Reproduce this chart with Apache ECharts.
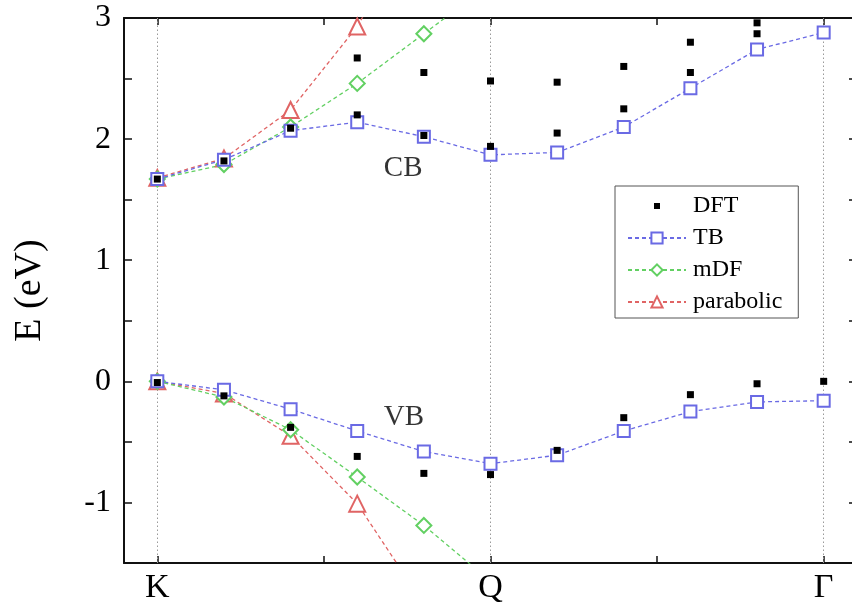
<!DOCTYPE html>
<html>
<head>
<meta charset="utf-8">
<script src="https://cdn.jsdelivr.net/npm/echarts@6/dist/echarts.min.js"></script>
<style>
  html, body { margin: 0; padding: 0; background: #fff; overflow: hidden; }
  /* canvas is slightly wider than the page so the right frame edge falls just outside */
  #chart { width: 860px; height: 608px; }
</style>
</head>
<body>
<div id="chart"></div>
<script>
// k-path sample index along K -> Q -> Gamma
const kIndex = [0, 1, 2, 3, 4, 5, 6, 7, 8, 9, 10];

// High-symmetry point labels on the k axis
const kPointNames = ['K', 'Q', 'Γ'];
const kPointIndex = [0, 5, 10];
const kMinorTicks = [0, 2.5, 5, 7.5, 10];

// Energy tick labels (eV)
const energyTicks = [-1, 0, 1, 2, 3];
const energyMinorTicks = [-1.5, -1, -0.5, 0, 0.5, 1, 1.5, 2, 2.5, 3];

// Tight-binding bands
const tbCB = [1.67, 1.83, 2.07, 2.14, 2.02, 1.87, 1.89, 2.10, 2.42, 2.74, 2.88];
const tbVB = [0.00, -0.07, -0.23, -0.41, -0.58, -0.68, -0.61, -0.41, -0.25, -0.17, -0.16];

// Massive Dirac fermion model
const mdfCB = [1.67, 1.79, 2.10, 2.46, 2.87, 3.28];
const mdfVB = [0.00, -0.13, -0.40, -0.79, -1.19, -1.65];

// Parabolic approximation
const parCB = [1.68, 1.84, 2.24, 2.93, 3.90];
const parVB = [0.00, -0.10, -0.45, -1.01, -1.84];

// DFT eigenvalues (several bands per k-point)
const dftK = [0, 1, 2, 3, 3, 4, 4, 5, 5, 6, 6, 7, 7, 8, 8, 9, 9,
              0, 1, 2, 3, 4, 5, 6, 7, 8, 9, 10];
const dftE = [1.67, 1.82, 2.09, 2.20, 2.67, 2.55, 2.03, 2.48, 1.94, 2.47, 2.05, 2.60, 2.25, 2.80, 2.55, 2.96, 2.87,
              -0.01, -0.12, -0.38, -0.62, -0.76, -0.77, -0.57, -0.30, -0.11, -0.02, 0.00];

// Band annotations
const bandNames = ['CB', 'VB'];
const bandNameK = [3.69, 3.70];
const bandNameE = [1.76, -0.30];

const FONT = 'Liberation Serif';
const C_TB = '#6a6ae4';
const C_MDF = '#62d062';
const C_PAR = '#e06464';

const pairs = (xs, ys) => ys.map((y, i) => [xs[i], y]);

function bandLine(name, values, color, symbol, size) {
  return {
    name: name,
    type: 'line',
    data: pairs(kIndex, values),
    symbol: symbol,
    symbolSize: size,
    showAllSymbol: true,
    clip: true,
    color: color,
    itemStyle: { color: color, borderWidth: 1.5 },
    lineStyle: { color: color, width: 1.3, type: [4, 3] },
    emphasis: { disabled: true },
    z: 3
  };
}

const chart = echarts.init(document.getElementById('chart'), null, { renderer: 'canvas' });

const axisTextStyle = { fontFamily: FONT, color: '#000' };

chart.setOption({
  backgroundColor: '#fff',
  animation: false,
  textStyle: { fontFamily: FONT },
  grid: { left: 124, top: 18, right: 3, bottom: 45 },
  legend: {
    data: [
      { name: 'DFT', icon: 'path://M0,0M14,14M4,4L10,4L10,10L4,10Z' },
      { name: 'TB' },
      { name: 'mDF' },
      { name: 'parabolic' }
    ],
    orient: 'vertical',
    left: 615,
    top: 186,
    padding: [8, 16, 4, 12],
    itemWidth: 58,
    itemHeight: 14,
    itemGap: 8,
    borderColor: '#555',
    borderWidth: 1,
    selectedMode: false,
    textStyle: { fontFamily: FONT, fontSize: 24, color: '#000', padding: [0, 0, 0, 2] }
  },
  xAxis: [
    {
      type: 'value',
      position: 'bottom',
      min: -0.5,
      max: 10.5,
      axisLine: { onZero: false, lineStyle: { color: '#111', width: 2 } },
      axisTick: { inside: true, length: 7, customValues: kMinorTicks, lineStyle: { color: '#111', width: 1.5 } },
      axisLabel: {
        customValues: kPointIndex,
        formatter: v => kPointNames[kPointIndex.indexOf(v)],
        fontSize: 34, margin: 8, ...axisTextStyle
      },
      splitLine: { show: false }
    },
    {
      type: 'value',
      position: 'top',
      min: -0.5,
      max: 10.5,
      axisLine: { onZero: false, lineStyle: { color: '#111', width: 2 } },
      axisTick: { inside: true, length: 7, customValues: kMinorTicks, lineStyle: { color: '#111', width: 1.5 } },
      axisLabel: { show: false },
      splitLine: { show: false }
    }
  ],
  yAxis: [
    {
      type: 'value',
      position: 'left',
      min: -1.5,
      max: 3,
      name: 'E (eV)',
      nameLocation: 'middle',
      nameGap: 75,
      nameTextStyle: { fontFamily: FONT, fontSize: 38, color: '#000' },
      axisLine: { show: true, onZero: false, lineStyle: { color: '#111', width: 2 } },
      axisTick: { show: true, inside: true, length: 8, customValues: energyMinorTicks, lineStyle: { color: '#111', width: 1.5 } },
      axisLabel: { customValues: energyTicks, formatter: v => String(v), fontSize: 32, margin: 13, ...axisTextStyle },
      splitLine: { show: false }
    },
    {
      type: 'value',
      position: 'right',
      min: -1.5,
      max: 3,
      axisLine: { show: true, onZero: false, lineStyle: { color: '#111', width: 2 } },
      axisTick: { show: true, inside: true, length: 8, customValues: energyMinorTicks, lineStyle: { color: '#111', width: 1.5 } },
      axisLabel: { show: false },
      splitLine: { show: false }
    }
  ],
  series: [
    bandLine('parabolic', parCB, C_PAR, 'emptyTriangle', 16),
    bandLine('parabolic', parVB, C_PAR, 'emptyTriangle', 16),
    bandLine('mDF', mdfCB, C_MDF, 'emptyDiamond', 15),
    bandLine('mDF', mdfVB, C_MDF, 'emptyDiamond', 15),
    bandLine('TB', tbCB, C_TB, 'emptyRect', 12),
    bandLine('TB', tbVB, C_TB, 'emptyRect', 12),
    {
      name: 'DFT',
      type: 'scatter',
      data: pairs(dftK, dftE),
      symbol: 'rect',
      symbolSize: 7,
      color: '#000',
      itemStyle: { color: '#000', opacity: 1 },
      emphasis: { disabled: true },
      z: 5,
      markLine: {
        silent: true,
        symbol: 'none',
        label: { show: false },
        lineStyle: { color: '#9a9a9a', type: [1.5, 2.5], width: 1 },
        data: kPointIndex.map(k => ({ xAxis: k })),
        z: 1
      }
    },
    {
      name: 'bands',
      type: 'scatter',
      data: bandNames.map((n, i) => ({ value: [bandNameK[i], bandNameE[i]], name: n })),
      symbolSize: 0,
      silent: true,
      label: {
        show: true,
        position: 'inside',
        formatter: p => p.name,
        fontFamily: FONT,
        fontSize: 29,
        color: '#000'
      },
      z: 6
    }
  ]
});
</script>
</body>
</html>
